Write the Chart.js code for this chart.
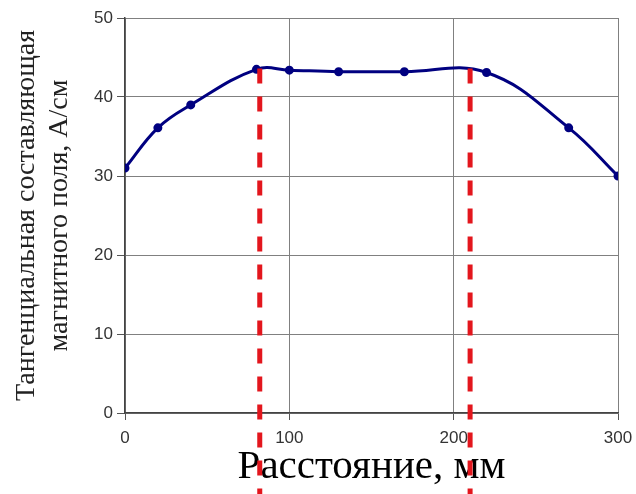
<!DOCTYPE html>
<html lang="ru">
<head>
    <meta charset="UTF-8">
    <title>Тангенциальная составляющая магнитного поля</title>
    <script src="https://cdn.jsdelivr.net/npm/chart.js"></script>
    <style>
        html, body { margin: 0; padding: 0; background: #fff; }
        #wrap { width: 636px; height: 494px; }
    </style>
</head>
<body>
    <div id="wrap"><canvas id="fieldChart" width="636" height="494"></canvas></div>

    <script>
        // Расстояние, мм
        const distances = [0, 20, 40, 80, 100, 130, 170, 220, 270, 300];
        // Тангенциальная составляющая, А/см
        const fieldValues = [31, 36.1, 39, 43.5, 43.4, 43.2, 43.2, 43.1, 36.1, 30];
        // красные пунктирные линии (границы зоны)
        const markerDistances = [82, 210];
        const markerTops = [43.6, 43.6];

        const xTicks = [0, 100, 200, 300];
        const yTicks = [0, 10, 20, 30, 40, 50];

        const points = distances.map((d, i) => ({ x: d, y: fieldValues[i] }));

        // рисуем красные вертикальные линии до низа картинки
        const markerLines = {
            id: 'markerLines',
            afterDatasetsDraw(chart) {
                const ctx = chart.ctx;
                const xs = chart.scales.x;
                const ys = chart.scales.y;
                ctx.save();
                ctx.strokeStyle = '#e3161d';
                ctx.lineWidth = 5;
                ctx.setLineDash([15, 13]);
                markerDistances.forEach((d, i) => {
                    const px = xs.getPixelForValue(d);
                    ctx.beginPath();
                    ctx.moveTo(px, ys.getPixelForValue(markerTops[i]));
                    ctx.lineTo(px, chart.height);
                    ctx.stroke();
                });
                ctx.restore();
            }
        };

        new Chart(document.getElementById('fieldChart'), {
            type: 'line',
            data: {
                datasets: [{
                    data: points,
                    borderColor: '#000080',
                    backgroundColor: '#000080',
                    borderWidth: 3,
                    pointRadius: 3,
                    pointHoverRadius: 3,
                    tension: 0.4,
                    fill: false
                }]
            },
            options: {
                responsive: false,
                animation: false,
                layout: { padding: { top: 18, right: 18, left: 0, bottom: 0 } },
                plugins: { legend: { display: false }, tooltip: { enabled: false } },
                scales: {
                    x: {
                        type: 'linear',
                        min: 0,
                        max: 300,
                        afterFit(scale) {
                            scale.height = 81;
                            scale.paddingRight = 0;
                        },
                        afterBuildTicks(scale) { scale.ticks = xTicks.map(v => ({ value: v })); },
                        grid: { color: '#808080', lineWidth: 1, tickLength: 7, tickColor: '#555' },
                        border: { color: '#444', width: 1.5 },
                        ticks: {
                            color: '#333',
                            padding: 8,
                            maxRotation: 0,
                            font: { family: 'Liberation Sans', size: 17 }
                        },
                        title: {
                            display: true,
                            text: 'Расстояние, мм',
                            color: '#000',
                            padding: { top: 0, bottom: 2 },
                            font: { family: 'Liberation Serif', size: 41, lineHeight: 1.2 }
                        }
                    },
                    y: {
                        min: 0,
                        max: 50,
                        afterFit(scale) { scale.width = 125; },
                        afterBuildTicks(scale) { scale.ticks = yTicks.map(v => ({ value: v })); },
                        grid: { color: '#808080', lineWidth: 1, tickLength: 8, tickColor: '#555' },
                        border: { color: '#444', width: 1.5 },
                        ticks: {
                            color: '#333',
                            padding: 4,
                            font: { family: 'Liberation Sans', size: 17 }
                        },
                        title: {
                            display: true,
                            text: ['Тангенциальная составляющая', 'магнитного поля, А/см'],
                            color: '#222',
                            padding: { top: 11, bottom: 0 },
                            font: { family: 'Liberation Serif', size: 28, lineHeight: 1.15 }
                        }
                    }
                }
            },
            plugins: [markerLines]
        });
    </script>
</body>
</html>
